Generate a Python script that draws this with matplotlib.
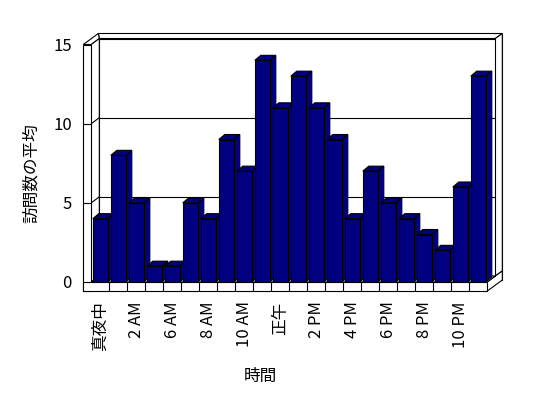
import matplotlib
matplotlib.use("Agg")
import matplotlib.pyplot as plt
from matplotlib.patches import Polygon

plt.rcParams['font.family'] = ['Noto Sans CJK JP', 'DejaVu Sans']

# data
hours = ['真夜中', '1 AM', '2 AM', '5 AM', '6 AM', '7 AM', '8 AM', '9 AM',
         '10 AM', '11 AM', '正午', '1 PM', '2 PM', '3 PM', '4 PM', '5 PM',
         '6 PM', '7 PM', '8 PM', '9 PM', '10 PM', '11 PM']
visits = [4, 8, 5, 1, 1, 5, 4, 9, 7, 14, 11, 13, 11, 9, 4, 7, 5, 4, 3, 2, 6, 13]
y_ticks = [0, 5, 10, 15]
grid_vals = [5, 10]

navy = '#000080'
lw = 0.8
n = len(hours)
ymax = 15

fig = plt.figure(figsize=(5.48, 3.98), dpi=100)
ax = fig.add_axes([91.3 / 548, (398 - 282) / 398, 396 / 548, 237.5 / 398])
ax.set_xlim(-0.5, n - 0.5)
ax.set_ylim(0, ymax)

# pixel -> data units
ux = n / ax.bbox.width
uy = ymax / ax.bbox.height


def P(x, y, dx=0, dy=0):
    # dx right, dy up, in pixels
    return (x + dx * ux, y + dy * uy)


def poly(pts, fc='white', z=1):
    ax.add_patch(Polygon(pts, closed=True, facecolor=fc, edgecolor='black',
                         lw=lw, clip_on=False, zorder=z))


def line(p, q, z=1.5):
    ax.plot([p[0], q[0]], [p[1], q[1]], color='black', lw=lw,
            clip_on=False, zorder=z, solid_capstyle='butt')


xl, xr = -0.5, n - 0.5
D1 = (8, 6)     # inner face of back wall
D2 = (15, 11)   # outer face of back wall
FT = 9          # floor thickness
WT = 8          # left wall thickness

# back wall, outer face
poly([P(xl, 0, -WT + D2[0], -FT + D2[1]), P(xr, 0, D2[0], -FT + D2[1]),
      P(xr, ymax, *D2), P(xl, ymax, -WT + D2[0], D2[1])])
# back wall top and right edges
poly([P(xl, ymax, *D1), P(xr, ymax, *D1), P(xr, ymax, *D2), P(xl, ymax, -WT + D2[0], D2[1])])
poly([P(xr, 0, *D1), P(xr, ymax, *D1), P(xr, ymax, *D2), P(xr, 0, *D2)])
# floor right side
poly([P(xr, 0), P(xr, 0, 0, -FT), P(xr, 0, D2[0], -FT + D2[1]),
      P(xr, 0, *D2), P(xr, 0, *D1)])
# back wall inner face with gridlines
poly([P(xl, 0, *D1), P(xr, 0, *D1), P(xr, ymax, *D1), P(xl, ymax, *D1)])
for g in grid_vals:
    line(P(xl, g, *D1), P(xr, g, *D1))

# left wall
poly([P(xl, ymax, -WT, 0), P(xl, ymax), P(xl, ymax, *D1), P(xl, ymax, -WT + D2[0], D2[1])])
poly([P(xl, 0), P(xl, ymax), P(xl, ymax, *D1), P(xl, 0, *D1)])
for g in grid_vals:
    line(P(xl, g), P(xl, g, *D1))
poly([P(xl, 0, -WT, -FT), P(xl, 0, 0, -FT), P(xl, ymax), P(xl, ymax, -WT, 0)])
for g in grid_vals:
    line(P(xl, g, -WT, 0), P(xl, g))

# floor
poly([P(xl, 0), P(xr, 0), P(xr, 0, *D1), P(xl, 0, *D1)])
poly([P(xl, 0, -WT, -FT), P(xr, 0, 0, -FT), P(xr, 0), P(xl, 0, -WT, 0)])
for k in range(1, n):
    line(P(xl + k, 0, 0, -FT), P(xl + k, 0))

# bars: sides and tops first, then front faces
w = 15 / 18
bd = (6, 5)
for i, v in enumerate(visits):
    x0, x1 = i - w / 2, i + w / 2
    poly([P(x1, 0), P(x1, v), P(x1, v, *bd), P(x1, 0, *bd)], fc=navy, z=2)
    poly([P(x0, v), P(x1, v), P(x1, v, *bd), P(x0, v, *bd)], fc=navy, z=2)
ax.bar(range(n), visits, width=w, color=navy, edgecolor='black', lw=lw, zorder=3)

for s in ax.spines.values():
    s.set_visible(False)
ax.set_yticks(y_ticks)
ax.set_xticks(range(0, n, 2))
ax.set_xticklabels(hours[::2], rotation=90, va='top')
ax.tick_params(axis='y', length=0, pad=14, labelsize=12)
ax.tick_params(axis='x', length=0, pad=14, labelsize=12)

ax.set_ylabel('訪問数の平均', fontsize=12, va='center')
ax.yaxis.set_label_coords((31 - 91.3) / 396, (282 - 173) / 237.5)
ax.set_xlabel('時間', fontsize=12, va='center')
ax.xaxis.set_label_coords((260 - 91.3) / 396, (282 - 376) / 237.5)

fig.savefig('out.png', dpi=100, facecolor='white')
